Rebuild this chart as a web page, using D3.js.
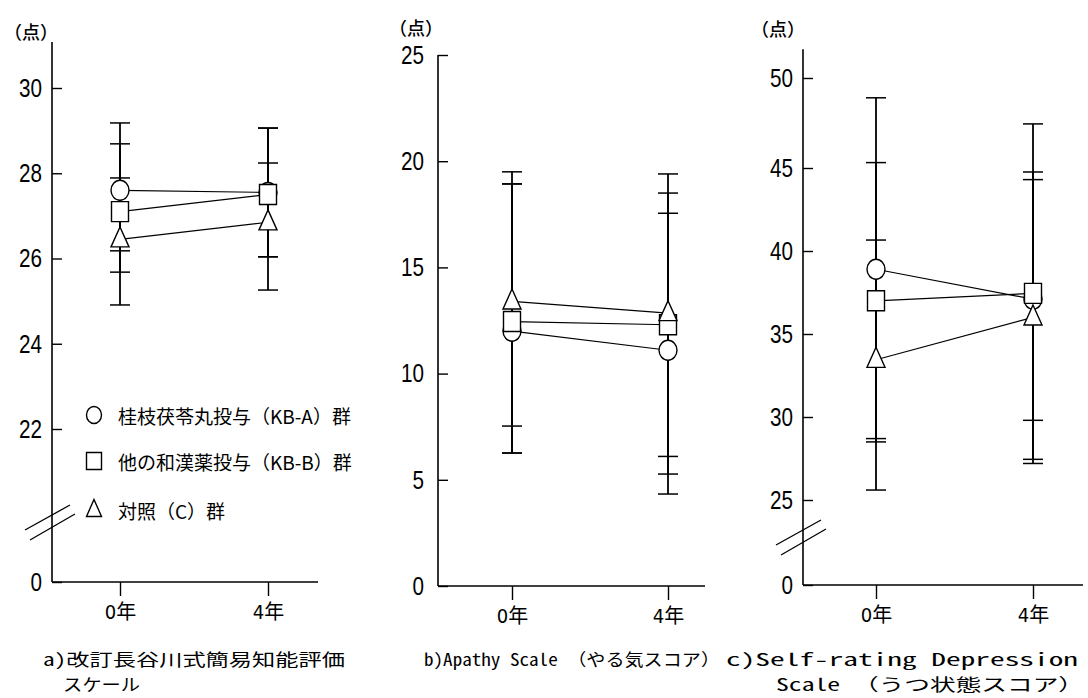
<!DOCTYPE html>
<html><head><meta charset="utf-8">
<script src="https://cdn.jsdelivr.net/npm/d3@7"></script>
<style>body{margin:0;background:#fff}</style>
</head><body><svg id="chart" width="1088" height="698"></svg>
<script>
// ---------- data ----------
const years = ["0年", "4年"];
const groups = ["桂枝茯苓丸投与（KB-A）群", "他の和漢薬投与（KB-B）群", "対照（C）群"];
const shapes = ["circle", "square", "triangle"];

// a) 改訂長谷川式簡易知能評価スケール
const hdsrTicks = [0, 22, 24, 26, 28, 30];
const hdsrA = [27.6, 27.55], hdsrAHi = [29.18, 29.06], hdsrALo = [26.18, 26.04];
const hdsrB = [27.1, 27.5],  hdsrBHi = [28.69, 29.06], hdsrBLo = [25.68, 26.04];
const hdsrC = [26.45, 26.85], hdsrCHi = [27.89, 28.24], hdsrCLo = [24.91, 25.26];

// b) Apathy Scale
const apathyTicks = [0, 5, 10, 15, 20, 25];
const apathyA = [12.0, 11.1], apathyAHi = [18.93, 17.55], apathyALo = [6.26, 4.33];
const apathyB = [12.45, 12.3], apathyBHi = [18.93, 18.5], apathyBLo = [6.26, 5.27];
const apathyC = [13.4, 12.85], apathyCHi = [19.5, 19.4], apathyCLo = [7.53, 6.1];

// c) Self-rating Depression Scale
const sdsTicks = [0, 25, 30, 35, 40, 45, 50];
const sdsA = [38.9, 37.1], sdsAHi = [48.9, 44.3], sdsALo = [28.5, 29.8];
const sdsB = [37.0, 37.45], sdsBHi = [45.3, 47.45], sdsBLo = [28.7, 27.2];
const sdsC = [33.45, 36.0], sdsCHi = [40.66, 44.76], sdsCLo = [25.6, 27.45];

const captionA = ["a)改訂長谷川式簡易知能評価", "スケール"];
const captionB = ["b)Apathy Scale　（やる気スコア）"];
const captionC = ["c)Self-rating Depression", "Scale　（うつ状態スコア）"];
const unitLabel = "（点）";

// ---------- layout ----------
const svg = d3.select("#chart");
const NUM_FONT = "'Liberation Sans',Arial,sans-serif";
const CJK_FONT = "'Noto Sans CJK JP','Noto Sans CJK SC',sans-serif";
const CAP_FONT = "'Noto Sans Mono CJK JP','Noto Sans CJK JP','DejaVu Sans Mono',monospace";

const panels = [
  { ax: 52, xEnd: 318, yDomain: [0, 22, 30], yRange: [582, 429, 88], yTop: 31.08,
    ticks: hdsrTicks, pad: 10, xRange: [120, 268], unit: [31, 31], breakOff: 60,
    series: [[hdsrA, hdsrAHi, hdsrALo], [hdsrB, hdsrBHi, hdsrBLo], [hdsrC, hdsrCHi, hdsrCLo]],
    caption: captionA, capPos: [[43, 345], [63, 140]] },
  { ax: 438, xEnd: 705, yDomain: [0, 25], yRange: [586, 55], yTop: 25,
    ticks: apathyTicks, pad: 14, xRange: [512, 668], unit: [416, 27], breakOff: null,
    series: [[apathyA, apathyAHi, apathyALo], [apathyB, apathyBHi, apathyBLo], [apathyC, apathyCHi, apathyCLo]],
    caption: captionB, capPos: [[424, 720]] },
  { ax: 803, xEnd: 1083, yDomain: [0, 25, 45, 50], yRange: [585, 500, 168, 78], yTop: 51.6,
    ticks: sdsTicks, pad: 10, xRange: [876, 1033], unit: [778, 28], breakOff: 48,
    series: [[sdsA, sdsAHi, sdsALo], [sdsB, sdsBHi, sdsBLo], [sdsC, sdsCHi, sdsCLo]],
    caption: captionC, capPos: [[726, 1078], [776, 1084]] }
];

function shapePath(shape, cx, cy, s) {
  const w = s.w, h = s.h;
  if (shape === "square") {
    return `M${cx - w/2},${cy - h/2}h${w}v${h}h${-w}Z`;
  }
  return `M${cx},${cy - h*0.62}L${cx + w/2},${cy + h*0.38}L${cx - w/2},${cy + h*0.38}Z`;
}
function drawMarker(g, shape, cx, cy, s) {
  if (shape === "circle") {
    g.append("ellipse").attr("cx", cx).attr("cy", cy).attr("rx", s.w/2).attr("ry", s.h/2)
      .attr("fill", "#fff").attr("stroke", "#000").attr("stroke-width", 1.4);
  } else {
    g.append("path").attr("d", shapePath(shape, cx, cy, s))
      .attr("fill", "#fff").attr("stroke", "#000").attr("stroke-width", 1.4);
  }
}
const markerSize = { circle: {w: 18, h: 20}, square: {w: 17, h: 20}, triangle: {w: 18, h: 20} };

panels.forEach(p => {
  const g = svg.append("g");
  const y = d3.scaleLinear().domain(p.yDomain).range(p.yRange);
  const x = d3.scalePoint().domain(years).range(p.xRange);
  const y0 = y(0);

  // axes lines
  g.append("line").attr("x1", p.ax).attr("x2", p.ax).attr("y1", y(p.yTop)).attr("y2", y0)
    .attr("stroke", "#000").attr("stroke-width", 1.6);
  g.append("line").attr("x1", p.ax).attr("x2", p.xEnd).attr("y1", y0).attr("y2", y0)
    .attr("stroke", "#000").attr("stroke-width", 1.6);

  // y ticks
  const ya = d3.axisLeft(y).tickValues(p.ticks).tickSizeInner(-10).tickSizeOuter(0)
    .tickPadding(p.pad).tickFormat(d3.format("d"));
  const yg = g.append("g").attr("transform", `translate(${p.ax},0)`).call(ya);
  yg.select(".domain").remove();
  yg.selectAll(".tick line").attr("stroke", "#000").attr("stroke-width", 1.4);
  yg.selectAll(".tick text").attr("fill", "#000")
    .attr("textLength", d => String(d).length * 11.5).attr("lengthAdjust", "spacingAndGlyphs")
    .style("font-family", NUM_FONT).style("font-size", "26px");

  // x ticks
  const xa = d3.axisBottom(x).tickSizeInner(14).tickSizeOuter(0).tickPadding(9);
  const xg = g.append("g").attr("transform", `translate(0,${y0})`).call(xa);
  xg.select(".domain").remove();
  xg.selectAll(".tick line").attr("stroke", "#000").attr("stroke-width", 1.4);
  xg.selectAll(".tick text").attr("fill", "#000")
    .style("font-family", "'Liberation Sans Narrow','DejaVu Sans Condensed'," + CJK_FONT).style("font-size", "20px");

  // unit label
  g.append("text").attr("x", p.unit[0]).attr("y", p.unit[1]).attr("text-anchor", "middle")
    .attr("dominant-baseline", "central").style("font-family", CJK_FONT).style("font-size", "18px")
    .style("font-weight", "500").text(unitLabel);

  // axis break
  if (p.breakOff !== null) {
    const by = y0 - p.breakOff;
    [[-27, 8, 18, -17], [-22, 18, 23, -8]].forEach(o => {
      g.append("line").attr("x1", p.ax + o[0]).attr("y1", by + o[1])
        .attr("x2", p.ax + o[2]).attr("y2", by + o[3])
        .attr("stroke", "#000").attr("stroke-width", 1.3);
    });
  }

  // error bars
  p.series.forEach(([m, hi, lo]) => {
    years.forEach((yr, i) => {
      const cx = x(yr);
      g.append("line").attr("x1", cx).attr("x2", cx).attr("y1", y(hi[i])).attr("y2", y(lo[i]))
        .attr("stroke", "#000").attr("stroke-width", 1.8);
      [hi[i], lo[i]].forEach(v => {
        g.append("line").attr("x1", cx - 10).attr("x2", cx + 10).attr("y1", y(v)).attr("y2", y(v))
          .attr("stroke", "#000").attr("stroke-width", 1.5);
      });
    });
  });

  // connecting lines
  const line = d3.line().x((d, i) => x(years[i])).y(d => y(d));
  p.series.forEach(([m]) => {
    g.append("path").attr("d", line(m)).attr("fill", "none")
      .attr("stroke", "#000").attr("stroke-width", 1.2);
  });

  // markers
  p.series.forEach(([m], si) => {
    years.forEach((yr, i) => drawMarker(g, shapes[si], x(yr), y(m[i]), markerSize[shapes[si]]));
  });

  // caption
  p.caption.forEach((t, li) => {
    const [x1, x2] = p.capPos[li];
    g.append("text").attr("x", x1).attr("y", 666 + li * 25)
      .attr("textLength", x2 - x1).attr("lengthAdjust", "spacingAndGlyphs")
      .style("font-family", CAP_FONT).style("font-size", "17px").text(t);
  });
});

// legend (inside panel a)
const legend = svg.append("g");
const legendY = [415, 461, 510];
groups.forEach((name, i) => {
  drawMarker(legend, shapes[i], 94, legendY[i], {w: 15, h: 17});
  legend.append("text").attr("x", 118).attr("y", legendY[i]).attr("dominant-baseline", "central")
    .style("font-family", CJK_FONT).style("font-size", "19px").text(name);
});
</script>
</body></html>
